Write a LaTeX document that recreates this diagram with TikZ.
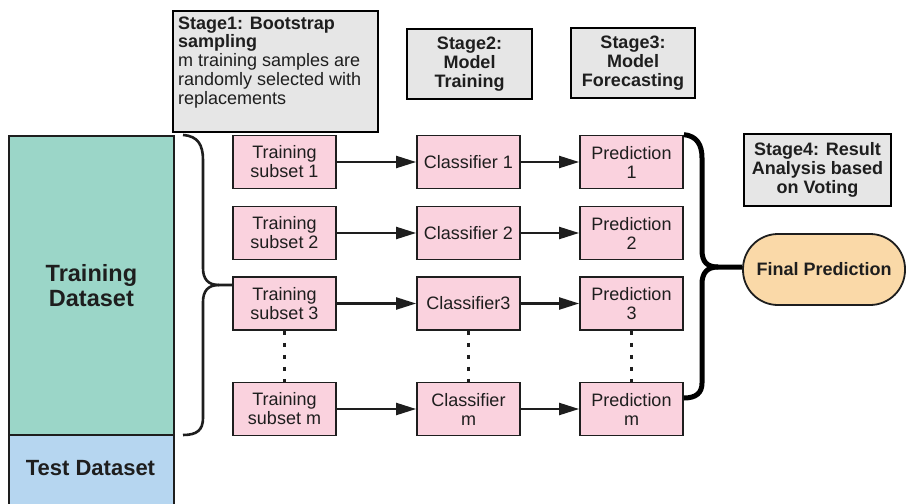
\documentclass[tikz,border=0pt]{standalone}
\usepackage{fontspec}
\setmainfont{Liberation Sans}
\usetikzlibrary{arrows.meta}
\definecolor{tdatac}{HTML}{9BD6C8}
\definecolor{testc}{HTML}{B6D6F0}
\definecolor{pinkc}{HTML}{FAD2DE}
\definecolor{stagec}{HTML}{E6E6E6}
\definecolor{finalc}{HTML}{FAD9A8}
\definecolor{inkc}{HTML}{1E1E1E}
\begin{document}
\begin{tikzpicture}[x=1pt,y=-1pt,
  box/.style={draw=inkc, line width=1.8pt, fill=pinkc, minimum width=103pt, minimum height=53pt, inner sep=0pt, align=center, font=\fontsize{18}{19}\selectfont, text=inkc},
  stagebox/.style={draw=black, line width=2.8pt, fill=stagec, inner sep=0pt, align=center, text=inkc, font=\fontsize{18}{18.7}\selectfont\bfseries},
  databox/.style={draw=inkc, line width=1.8pt, inner sep=0pt, anchor=north west, minimum width=165pt},
  arr/.style={draw=inkc, line width=2.2pt, -{Triangle[length=20pt,width=12pt]}},
  dots/.style={draw=inkc, line width=3pt, dash pattern=on 4pt off 8pt},
  brace/.style={draw=inkc, line width=2.6pt, line join=round},
  bigbrace/.style={draw=black, line width=5pt, line join=round}
]
\clip (0,0) rectangle (907,503);
\fill[white] (0,0) rectangle (907,503);

% datasets
\node[databox, fill=tdatac, minimum height=299pt, align=center, text=inkc, font=\fontsize{23.5}{25}\selectfont\bfseries] (train) at (8,135) {Training\\Dataset};
\node[databox, fill=testc, minimum height=90pt] (test) at (8,434) {};
\node[text=inkc, font=\fontsize{22}{24}\selectfont\bfseries] (testlbl) at (90.5,468) {Test Dataset};

% stage boxes
\node[stagebox, minimum width=205pt, minimum height=121pt] (st1) at (275.5,71.5) {};
\node[anchor=north west, inner sep=0pt, align=left, text=inkc, font=\fontsize{18}{18.7}\selectfont] (st1t) at (178,16.5)
  {\bfseries Stage1: Bootstrap\\\bfseries sampling\\m training samples are\\randomly selected with\\replacements};
\node[stagebox, minimum width=125pt, minimum height=70pt] (st2) at (469.5,64) {Stage2:\\Model\\Training};
\node[stagebox, minimum width=124pt, minimum height=70pt] (st3) at (633,63) {Stage3:\\Model\\Forecasting};
\node[stagebox, minimum width=147pt, minimum height=72pt] (st4) at (817.5,170) {Stage4: Result\\Analysis based\\on Voting};

% pink boxes
\node[box] (s1) at (284.5,162) {Training\\subset 1};
\node[box] (s2) at (284.5,233) {Training\\subset 2};
\node[box] (s3) at (284.5,303.5) {Training\\subset 3};
\node[box] (sm) at (284.5,409) {Training\\subset m};
\node[box] (c1) at (468.5,162) {Classifier 1};
\node[box] (c2) at (468.5,233) {Classifier 2};
\node[box] (c3) at (468.5,303.5) {Classifier3};
\node[box] (cm) at (468.5,409) {Classifier\\m};
\node[box] (p1) at (631.5,162) {Prediction\\1};
\node[box] (p2) at (631.5,233) {Prediction\\2};
\node[box] (p3) at (631.5,303.5) {Prediction\\3};
\node[box] (pm) at (631.5,409) {Prediction\\m};

% final
\node[draw=inkc, line width=1.8pt, fill=finalc, rounded corners=35pt, minimum width=162pt, minimum height=71pt, inner sep=0pt, text=inkc, font=\fontsize{18}{19}\selectfont\bfseries] (fin) at (824,269.5) {Final Prediction};

% arrows
\foreach \r in {1,2,3,m}{
  \draw[arr] (s\r) -- (c\r);
  \draw[arr] (c\r) -- (p\r);
}

% dotted continuations
\draw[dots] (s3.south) -- (sm.north);
\draw[dots] (c3.south) -- (cm.north);
\draw[dots] (p3.south) -- (pm.north);

% left brace
\coordinate (lbt) at (219,285);
\draw[brace] (183,135) .. controls (198,136) and (203,145) .. (203,160) -- (203,268)
  .. controls (203,279) and (208,285) .. (lbt) -- (s3.west |- lbt);
\draw[brace] (lbt) .. controls (208,285) and (203,291) .. (203,302) -- (203,418)
  .. controls (203,430) and (197,435) .. (183,435);

% right brace
\coordinate (rbt) at (718,267);
\draw[bigbrace] (p1.north east) .. controls (697,136) and (702,145) .. (702,158) -- (702,250)
  .. controls (702,262) and (707,267) .. (rbt) -- (fin.west |- rbt);
\draw[bigbrace] (rbt) .. controls (707,267) and (702,273) .. (702,284) -- (702,383)
  .. controls (702,393) and (696,398) .. (pm.east |- 0,398);
\end{tikzpicture}
\end{document}
